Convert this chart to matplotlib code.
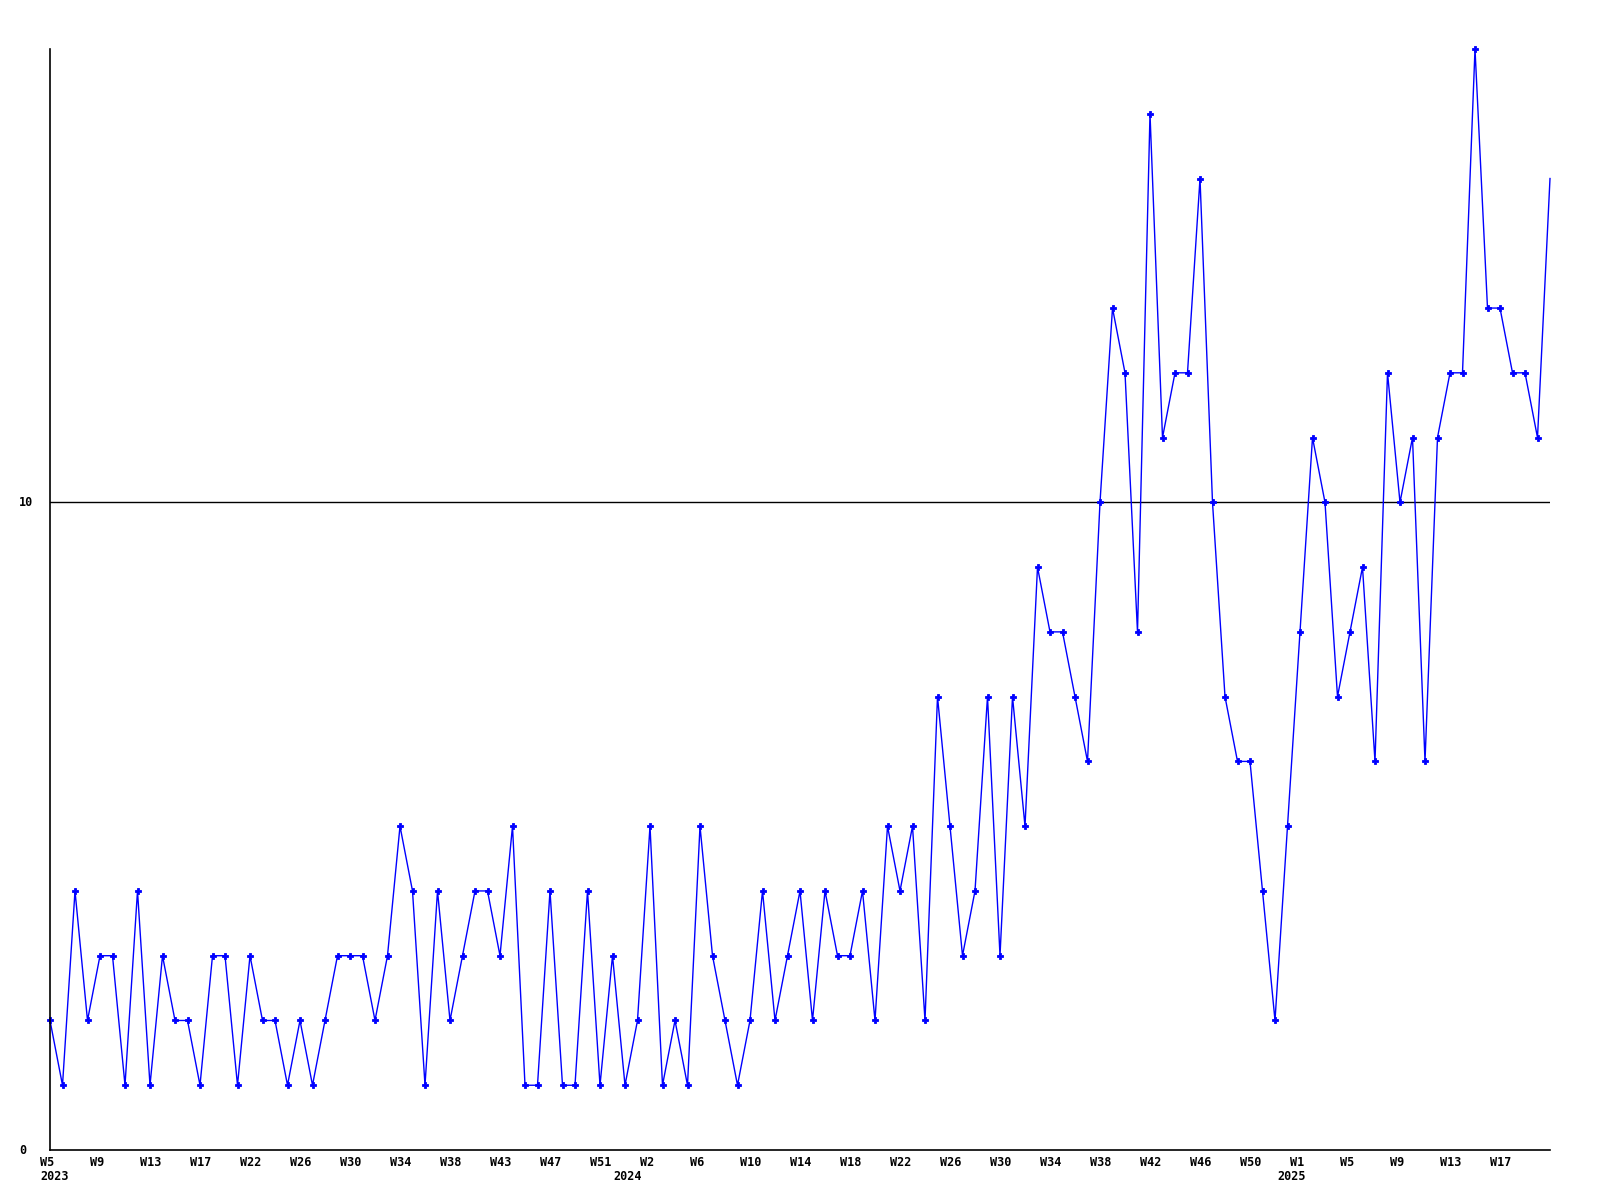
import matplotlib
matplotlib.use("Agg")
import matplotlib.pyplot as plt

values = [2, 1, 4, 2, 3, 3, 1, 4, 1, 3, 2, 2, 1, 3, 3, 1, 3, 2, 2, 1,
          2, 1, 2, 3, 3, 3, 2, 3, 5, 4, 1, 4, 2, 3, 4, 4, 3, 5, 1, 1,
          4, 1, 1, 4, 1, 3, 1, 2, 5, 1, 2, 1, 5, 3, 2, 1, 2, 4, 2, 3,
          4, 2, 4, 3, 3, 4, 2, 5, 4, 5, 2, 7, 5, 3, 4, 7, 3, 7, 5, 9,
          8, 8, 7, 6, 10, 13, 12, 8, 16, 11, 12, 12, 15, 10, 7, 6, 6, 4, 2, 5,
          8, 11, 10, 7, 8, 9, 6, 12, 10, 11, 6, 11, 12, 12, 17, 13, 13, 12, 12, 11,
          15]

tick_labels = ["W5", "W9", "W13", "W17", "W22", "W26", "W30", "W34", "W38", "W43",
               "W47", "W51", "W2", "W6", "W10", "W14", "W18", "W22", "W26", "W30",
               "W34", "W38", "W42", "W46", "W50", "W1", "W5", "W9", "W13", "W17"]
year_labels = ["2023", "2024", "2025"]
year_pos = [-0.8, 45.1, 98.2]
y_ticks = [0, 10]

W, H = 1600, 1200
fig = plt.figure(figsize=(16, 12), dpi=100)
ax = fig.add_axes([50 / W, 50 / H, 1500 / W, 1101 / H])
x = list(range(len(values)))
ax.plot(x, values, color="#0000ff", lw=1.0, marker="P", markersize=5,
        markeredgewidth=0.6, markeredgecolor="#0000ff", markerfacecolor="#0000ff",
        markevery=list(range(len(values) - 1)), clip_on=False)
ax.set_xlim(0, len(values) - 1)
ax.set_ylim(0, 17)
ax.axhline(10, color="black", lw=1.0, zorder=0)

for s in ["top", "right"]:
    ax.spines[s].set_visible(False)
for s in ["left", "bottom"]:
    ax.spines[s].set_color("black")
    ax.spines[s].set_linewidth(1.2)
ax.set_xticks([])
ax.set_yticks([])

font = dict(family="DejaVu Sans Mono", weight="bold", size=8.5)
for i, lab in enumerate(tick_labels):
    xi = i * 4
    xpix = 50 + xi * 12.5 - 10
    fig.text(xpix / W, 1 - 1163 / H, lab, ha="left", va="center", **font)
for lab, p in zip(year_labels, year_pos):
    xpix = 50 + p * 12.5
    fig.text(xpix / W, 1 - 1177 / H, lab, ha="left", va="center", **font)
for v in y_ticks:
    ypix = 1150 - v * (1101 / 17)
    fig.text(19 / W, 1 - ypix / H, str(v), ha="left", va="center", **font)

fig.savefig("out.png", dpi=100)
